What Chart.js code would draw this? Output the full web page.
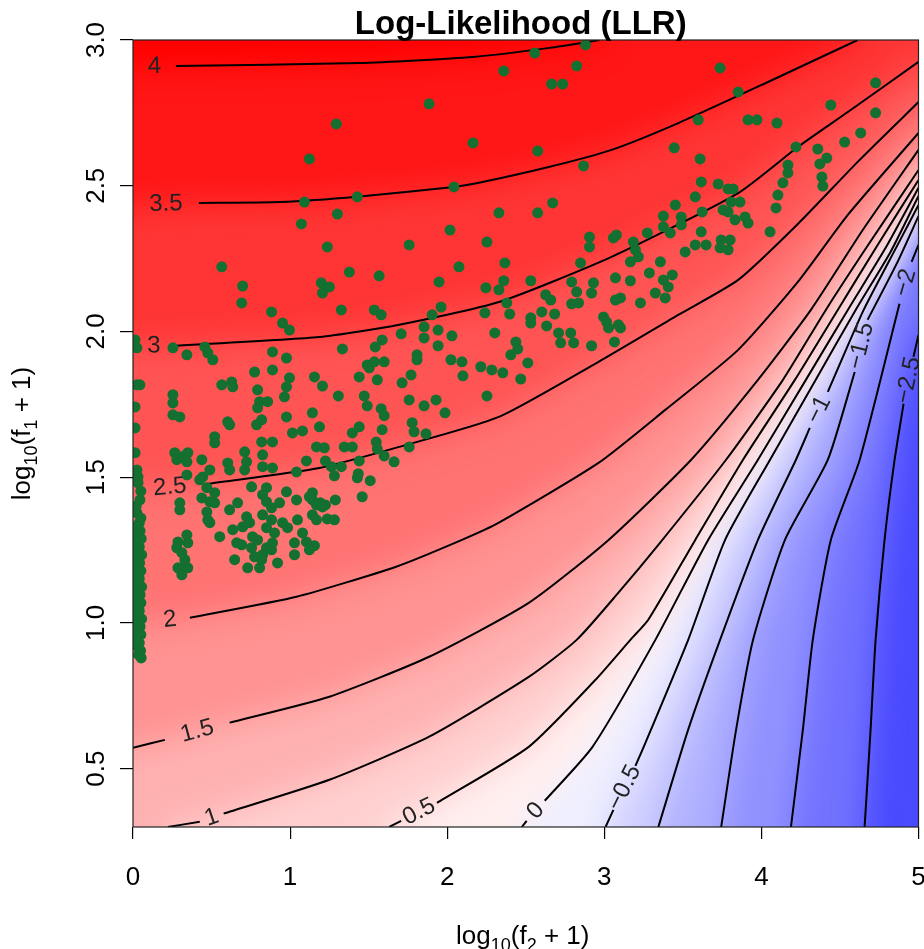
<!DOCTYPE html>
<html>
<head>
<meta charset="utf-8">
<script src="https://cdn.jsdelivr.net/npm/chart.js@4.4.1/dist/chart.umd.min.js"></script>
<style>
  html, body { margin: 0; padding: 0; background: #fff; }
  #wrap { width: 924px; height: 949px; }
</style>
</head>
<body>
<div id="wrap"><canvas id="llr" width="924" height="949"></canvas></div>
<script>
// axis limits and ticks
const X_MIN = 0, X_MAX = 5, Y_MIN = 0.3, Y_MAX = 3.0;
const xTickValues = [0, 1, 2, 3, 4, 5];
const yTickValues = [0.5, 1, 1.5, 2, 2.5, 3];
const yTickLabels = ['0.5', '1.0', '1.5', '2.0', '2.5', '3.0'];

// contour lines, [log10(f2+1), log10(f1+1)]; null = gap for the label
const contourLevels = [4, 3.5, 3, 2.5, 2, 1.5, 1, 0.5, 0, -0.5, -1, -1.5, -2, -2.5];
const c40 = [[0, 2.907], null, [0.273, 2.911], [1.44, 2.921], [2.164, 2.942], [2.652, 2.973], [2.97, 3.0]];
const c35 = [[0, 2.434], null, [0.419, 2.441], [0.933, 2.444], [1.428, 2.462], [2.043, 2.496], [2.202, 2.51],
  [2.646, 2.564], [3.046, 2.623], [3.471, 2.715], [4.042, 2.856], [4.613, 3.0]];
const c30 = [[0, 1.95], null, [0.266, 1.951], [1.187, 1.981], [1.694, 2.023], [2.329, 2.101], [3.046, 2.256],
  [3.852, 2.475], [4.232, 2.633], [4.55, 2.753], [5, 2.925]];
const c25 = [[0, 1.455], null, [0.47, 1.477], [1.187, 1.532], [1.694, 1.604], [2.329, 1.707], [2.963, 1.896],
  [3.471, 2.057], [3.852, 2.177], [4.232, 2.369], [4.613, 2.582], [5, 2.787]];
const c20 = [[0.108, 1.004], null, [0.362, 1.018], [1.041, 1.09], [1.675, 1.193], [2.094, 1.285], [2.329, 1.344],
  [2.963, 1.549], [3.388, 1.731], [3.852, 1.937], [4.232, 2.17], [4.55, 2.4], [5, 2.681]];
const c15 = [[0, 0.572], [0.203, 0.599], null, [0.615, 0.658], [1.25, 0.747], [1.885, 0.884], [2.519, 1.069],
  [3.027, 1.285], [3.553, 1.56], [3.978, 1.834], [4.315, 2.074], [4.645, 2.348], [5, 2.623]];
const c10 = [[0.222, 0.3], [0.425, 0.318], null, [0.577, 0.346], [1.25, 0.462], [1.885, 0.61], [2.519, 0.815],
  [2.824, 0.942], [3.09, 1.104], [3.344, 1.268], [3.775, 1.56], [4.137, 1.834], [4.41, 2.074], [4.676, 2.294], [5, 2.554]];
const c05 = [[1.631, 0.3], [1.707, 0.321], null, [1.935, 0.383], [2.519, 0.575], [2.944, 0.805], [3.166, 0.942],
  [3.28, 1.011], [3.579, 1.285], [3.883, 1.56], [4.213, 1.834], [4.486, 2.074], [4.74, 2.297], [5, 2.52]];
const c00 = [[2.475, 0.3], [2.506, 0.321], null, [2.621, 0.39], [2.925, 0.575], [3.325, 0.942], [3.661, 1.285],
  [3.978, 1.56], [4.283, 1.834], [4.55, 2.074], [4.791, 2.287], [5, 2.493]];
const cm05 = [[3.008, 0.3], [3.058, 0.359], null, [3.198, 0.51], [3.249, 0.572], [3.534, 0.942], [3.769, 1.285],
  [4.055, 1.56], [4.346, 1.834], [4.6, 2.074], [4.822, 2.273], [5, 2.465]];
const cm10 = [[3.344, 0.3], [3.534, 0.634], [3.737, 0.942], [3.978, 1.285], [4.22, 1.56], [4.308, 1.669], null,
  [4.423, 1.793], [4.651, 2.074], [4.867, 2.297], [5, 2.434]];
const cm15 = [[3.744, 0.3], [3.839, 0.634], [3.947, 0.942], [4.15, 1.285], [4.423, 1.56], [4.594, 1.861], null,
  [4.676, 2.04], [4.867, 2.239], [5, 2.396]];
const cm20 = [[4.188, 0.3], [4.264, 0.634], [4.327, 0.942], [4.442, 1.285], [4.626, 1.56], [4.879, 2.095], null,
  [4.956, 2.239], [5, 2.297]];
const cm25 = [[4.657, 0.3], [4.695, 0.634], [4.727, 0.942], [4.784, 1.285], [4.848, 1.56], [4.905, 1.752], null,
  [4.968, 1.913], [5, 1.988]];
const contourPaths = [c40, c35, c30, c25, c20, c15, c10, c05, c00, cm05, cm10, cm15, cm20, cm25];

// green points, [log10(f2+1), log10(f1+1)]
const genes = [
  [0.013,1.971],[0.025,1.944],[0.025,1.817],[0.044,1.817],[0.013,1.741],[0.013,1.669],[0.013,1.584],[0.025,1.525],
  [0.032,1.501],[0.032,1.481],[0.05,1.452],[0.044,1.422],[0.02,1.4],[0.025,1.378],[0.05,1.36],[0.04,1.343],
  [0.02,1.33],[0.045,1.316],[0.03,1.302],[0.052,1.289],[0.02,1.275],[0.04,1.261],[0.028,1.248],[0.055,1.234],
  [0.018,1.22],[0.042,1.206],[0.03,1.193],[0.05,1.179],[0.022,1.165],[0.04,1.152],[0.03,1.138],[0.055,1.124],
  [0.018,1.11],[0.045,1.097],[0.028,1.083],[0.05,1.069],[0.02,1.056],[0.04,1.042],[0.03,1.028],[0.055,1.014],
  [0.022,1.001],[0.045,0.987],[0.03,0.973],[0.05,0.96],[0.02,0.946],[0.04,0.932],[0.03,0.919],[0.048,0.905],
  [0.035,0.891],[0.052,0.88],
  [0.254,1.944],[0.343,1.92],[0.457,1.947],[0.476,1.927],[0.508,1.903],[0.565,1.817],[0.628,1.827],[0.635,1.81],
  [0.692,2.098],[0.882,2.067],[0.952,2.029],[0.996,2.005],[0.888,1.93],[0.977,1.909],[0.774,1.861],[0.888,1.868],
  [0.996,1.841],[0.977,1.81],[0.793,1.8],[0.964,1.776],[0.806,1.759],[0.857,1.759],[0.793,1.738],[0.977,1.707],
  [0.819,1.697],[0.787,1.68],[0.603,1.69],[0.615,1.68],[0.52,1.639],[0.52,1.618],[0.819,1.621],[0.888,1.621],
  [0.711,1.587],[0.825,1.577],[0.825,1.536],[0.888,1.532],[0.723,1.553],[0.711,1.525],[0.603,1.549],[0.615,1.525],
  [0.254,1.783],[0.254,1.755],[0.254,1.714],[0.298,1.707],[0.266,1.584],[0.311,1.57],[0.349,1.584],[0.279,1.56],
  [0.343,1.553],[0.343,1.508],[0.438,1.56],[0.444,1.501],[0.489,1.525],[1.041,1.518],[1.015,1.652],[0.565,2.222],
  [0.698,2.156],
  [1.123,2.592],[1.091,2.444],[1.428,2.462],[2.043,2.496],[1.301,2.403],[1.072,2.369],[2.018,2.348],[1.237,2.29],
  [1.758,2.297],[2.253,2.307],[1.377,2.204],[1.567,2.191],[2.075,2.222],[1.948,2.17],[1.199,2.167],[1.25,2.153],
  [1.206,2.132],[1.326,2.074],[1.536,2.074],[1.961,2.084],[2.246,2.15],
  [2.881,2.983],[2.557,2.955],[2.36,2.894],[2.824,2.911],[2.665,2.849],[2.735,2.849],[1.885,2.781],[1.294,2.712],
  [2.164,2.647],[2.576,2.619],[2.868,2.568],[3.737,2.904],[3.598,2.726],[3.445,2.63],[3.61,2.592],
  [3.617,2.513],[3.579,2.462],[3.452,2.434],[3.623,2.41],[2.671,2.441],[2.576,2.407],[2.329,2.407],[3.376,2.396],
  [3.376,2.359],[3.49,2.393],[3.49,2.366],[3.42,2.338],[3.274,2.338],[3.617,2.342],[2.906,2.324],[2.906,2.29],
  [3.058,2.321],[3.077,2.331],[3.185,2.307],[3.198,2.28],[3.217,2.256],[3.166,2.239],[3.579,2.297],[3.648,2.297],
  [3.515,2.273],[2.849,2.235],[3.357,2.239],[2.367,2.235],[3.287,2.201],[3.433,2.194],[2.329,2.143],[2.36,2.174],
  [2.532,2.174],[2.792,2.17],[2.931,2.167],[3.071,2.184],[3.166,2.174],[3.376,2.177],[3.407,2.153],[2.824,2.136],
  [2.919,2.132],[3.325,2.132],[3.388,2.115],[2.379,2.098],[2.627,2.126],[2.659,2.108],[2.792,2.095],[2.836,2.098],
  [3.071,2.108],[3.103,2.115],[3.23,2.098],[2.24,2.064],[2.398,2.06],[2.602,2.067],[2.684,2.06],[2.532,2.047],
  [2.532,2.029],[2.633,2.019],[2.995,2.05],[3.014,2.033],[3.027,2.012],[3.09,2.023],[3.103,2.012],[2.303,1.995],
  [2.709,1.995],[2.786,1.995],[2.722,1.961],[2.805,1.961],[2.919,1.951],[3.065,1.964],[2.437,1.964],[2.449,1.94],
  [2.405,1.92],[2.513,1.892],[2.284,1.868],[2.354,1.858],[2.468,1.837],[2.214,1.879],[2.253,1.779],
  [3.852,2.822],[3.915,2.726],[3.972,2.726],[4.099,2.715],[4.727,2.853],[4.442,2.777],[4.727,2.75],[4.632,2.681],
  [4.53,2.65],[4.22,2.633],[4.359,2.626],[4.416,2.595],[4.372,2.575],[4.169,2.571],[4.169,2.544],[4.137,2.51],
  [4.385,2.53],[4.391,2.499],[4.105,2.468],[4.093,2.424],[3.725,2.506],[3.788,2.489],[3.82,2.489],[3.807,2.444],
  [3.864,2.444],[3.756,2.417],[3.788,2.41],[3.832,2.383],[3.896,2.393],[3.915,2.372],[4.055,2.342],[3.744,2.314],
  [3.801,2.314],[3.737,2.287],[3.788,2.28],
  [1.58,2.057],[1.904,2.057],[1.853,2.016],[1.853,1.978],[1.942,2.005],[2.03,1.985],[1.707,1.992],[1.586,1.971],
  [1.542,1.947],[1.333,1.94],[1.942,1.951],[1.808,1.92],[1.808,1.903],[2.024,1.903],[2.094,1.896],[1.491,1.885],
  [1.536,1.896],[1.599,1.896],[1.504,1.875],[2.1,1.848],[1.77,1.851],[1.713,1.824],[1.44,1.844],[1.555,1.834],
  [1.155,1.844],[1.206,1.813],[1.307,1.779],[1.472,1.779],[1.758,1.765],[1.491,1.745],[1.58,1.735],[1.853,1.745],
  [1.929,1.765],[1.986,1.721],[1.599,1.711],[1.142,1.721],[1.44,1.673],[1.396,1.652],[1.187,1.673],[1.079,1.659],
  [1.586,1.663],[1.777,1.687],[1.789,1.656],[1.865,1.649],[1.548,1.621],[1.555,1.597],[1.599,1.573],[1.758,1.604],
  [1.662,1.553],[1.168,1.604],[1.218,1.601],[1.345,1.604],[1.396,1.604],[1.44,1.556],[1.104,1.556],[1.225,1.556],
  [1.263,1.536],[1.326,1.536],[1.282,1.505],[1.434,1.512],[1.428,1.498],[1.51,1.488],[1.459,1.433],[1.142,1.447],
  [1.123,1.433],[1.193,1.412],[1.225,1.405],[1.288,1.422],[1.142,1.371],[1.168,1.354],[1.237,1.357],[1.282,1.354],
  [1.079,1.309],[1.104,1.278],[1.155,1.265],
  [0.298,1.412],[0.298,1.388],[0.286,1.278],[0.279,1.258],[0.343,1.302],[0.349,1.275],[0.311,1.241],[0.33,1.217],
  [0.317,1.189],[0.286,1.189],[0.349,1.189],[0.311,1.165],[0.425,1.491],[0.47,1.464],[0.52,1.447],[0.438,1.429],
  [0.489,1.416],[0.52,1.412],[0.47,1.381],[0.476,1.354],[0.489,1.344],[0.615,1.388],[0.666,1.412],[0.552,1.296],
  [0.635,1.32],[0.66,1.275],[0.647,1.217],[0.692,1.268],[0.698,1.33],[0.723,1.364],[0.755,1.467],[0.742,1.344],
  [0.761,1.296],[0.755,1.258],[0.774,1.227],[0.73,1.189],[0.806,1.189],[0.825,1.44],[0.85,1.416],[0.825,1.371],
  [0.882,1.395],[0.882,1.354],[0.85,1.327],[0.901,1.309],[0.793,1.285],[0.85,1.258],[0.882,1.251],[0.825,1.234],
  [0.819,1.217],[0.888,1.275],[0.92,1.206],[0.933,1.412],[0.952,1.344],[0.977,1.45],[1.041,1.422],[1.047,1.354],
  [0.984,1.327],[1.028,1.275],[1.142,1.422],[1.168,1.405],[1.206,1.398],[1.028,1.234],[1.123,1.251],[0.85,1.464]
];

const FONT = '"Liberation Sans", Arial, Helvetica, sans-serif';
const PAD = 1; // how far the filled regions run past the plot edge
const BLUR = 'blur(16px)';

// red - white - blue scale for the LLR value
function llrColor(v) {
  if (v >= 0) {
    const t = Math.min(v / 4.1, 1);
    const c = Math.round(255 * (1 - t));
    return `rgb(255,${c},${c})`;
  }
  const t = Math.min(-v / 3.2, 1);
  const c = Math.round(255 - t * 200);
  return `rgb(${c},${c},255)`;
}

const toXY = p => p ? {x: p[0], y: p[1]} : {x: null, y: null};

// area where LLR is above a level: the contour closed through the top-left corner
function regionPolygon(path) {
  const pts = path.filter(p => p);
  const first = pts[0], last = pts[pts.length - 1];
  const poly = [];
  if (first[1] <= Y_MIN + 0.01) {
    poly.push([X_MIN - PAD, Y_MIN - PAD], [first[0], Y_MIN - PAD]);
  } else {
    poly.push([X_MIN - PAD, first[1]]);
  }
  poly.push(...pts);
  if (last[1] >= Y_MAX - 0.01) {
    poly.push([last[0], Y_MAX + PAD]);
  } else {
    poly.push([X_MAX + PAD, last[1]], [X_MAX + PAD, Y_MAX + PAD]);
  }
  poly.push([X_MIN - PAD, Y_MAX + PAD]);
  return poly.map(toXY);
}

const regionSets = contourLevels.map((lvl, i) => ({
  type: 'line',
  data: regionPolygon(contourPaths[i]),
  fill: 'shape',
  backgroundColor: llrColor(lvl + 0.25),
  borderWidth: 0,
  pointRadius: 0,
  tension: 0,
  order: 100 + i
}));

const contourSets = contourLevels.map((lvl, i) => ({
  type: 'line',
  data: contourPaths[i].map(toXY),
  fill: false,
  borderColor: '#000',
  borderWidth: 2,
  pointRadius: 0,
  tension: 0.2,
  order: 10
}));

const geneSet = {
  type: 'scatter',
  data: genes.map(toXY),
  pointRadius: 5.5,
  pointBackgroundColor: '#137030',
  pointBorderWidth: 0,
  order: 0
};

const datasets = [...regionSets, ...contourSets, geneSet];
const GENE_INDEX = datasets.length - 1;

function labelText(v) {
  return (v < 0 ? '\u2212' : '') + String(Math.abs(v));
}

function drawContourLabels(chart) {
  const {ctx, scales: {x, y}} = chart;
  ctx.save();
  ctx.font = `24px ${FONT}`;
  ctx.fillStyle = '#222';
  ctx.textAlign = 'center';
  ctx.textBaseline = 'middle';
  contourPaths.forEach((path, i) => {
    const k = path.indexOf(null);
    if (k < 1) return;
    const a = path[k - 1], b = path[k + 1];
    const ax = x.getPixelForValue(a[0]), ay = y.getPixelForValue(a[1]);
    const bx = x.getPixelForValue(b[0]), by = y.getPixelForValue(b[1]);
    let ang = Math.atan2(by - ay, bx - ax);
    if (ang > Math.PI / 2) ang -= Math.PI;
    if (ang < -Math.PI / 2) ang += Math.PI;
    ctx.save();
    ctx.translate((ax + bx) / 2, (ay + by) / 2);
    ctx.rotate(ang);
    ctx.fillText(labelText(contourLevels[i]), 0, 0);
    ctx.restore();
  });
  ctx.restore();
}

// text with subscripts, centred on (0,0) of the current transform
function drawSubText(ctx, parts, size) {
  const subSize = Math.round(size * 0.7);
  let total = 0;
  parts.forEach(([t, sub]) => {
    ctx.font = `${sub ? subSize : size}px ${FONT}`;
    total += ctx.measureText(t).width;
  });
  let cx = -total / 2;
  ctx.textAlign = 'left';
  ctx.textBaseline = 'alphabetic';
  parts.forEach(([t, sub]) => {
    ctx.font = `${sub ? subSize : size}px ${FONT}`;
    ctx.fillText(t, cx, sub ? size * 0.28 : 0);
    cx += ctx.measureText(t).width;
  });
}

const decor = {
  id: 'decor',
  beforeDatasetsDraw(chart) {
    const {ctx, chartArea: a} = chart;
    ctx.save();
    ctx.fillStyle = llrColor(-2.9);
    ctx.fillRect(a.left, a.top, a.right - a.left, a.bottom - a.top);
    ctx.restore();
    ctx.filter = BLUR;
  },
  beforeDatasetDraw(chart, args) {
    chart.ctx.filter = 'none';
    if (args.index === GENE_INDEX) drawContourLabels(chart);
  },
  afterDatasetDraw(chart) {
    chart.ctx.filter = BLUR;
  },
  afterDatasetsDraw(chart) {
    chart.ctx.filter = 'none';
  },
  afterDraw(chart) {
    const {ctx, chartArea: a, scales: {y}} = chart;
    ctx.save();
    ctx.strokeStyle = '#222';
    ctx.lineWidth = 1.2;
    ctx.strokeRect(a.left, a.top, a.right - a.left, a.bottom - a.top);

    // y tick labels, parallel to the axis
    ctx.fillStyle = '#000';
    ctx.font = `26px ${FONT}`;
    ctx.textAlign = 'center';
    ctx.textBaseline = 'middle';
    yTickValues.forEach((v, i) => {
      ctx.save();
      ctx.translate(a.left - 36, y.getPixelForValue(v));
      ctx.rotate(-Math.PI / 2);
      ctx.fillText(yTickLabels[i], 0, 0);
      ctx.restore();
    });

    // title
    ctx.font = `bold 33px ${FONT}`;
    ctx.textBaseline = 'alphabetic';
    ctx.fillText('Log-Likelihood (LLR)', (a.left + a.right) / 2 - 5, 34);

    // axis titles
    ctx.save();
    ctx.translate((a.left + a.right) / 2 - 3, 944);
    drawSubText(ctx, [['log', 0], ['10', 1], ['(f', 0], ['2', 1], [' + 1)', 0]], 26);
    ctx.restore();

    ctx.save();
    ctx.translate(30, (a.top + a.bottom) / 2);
    ctx.rotate(-Math.PI / 2);
    drawSubText(ctx, [['log', 0], ['10', 1], ['(f', 0], ['1', 1], [' + 1)', 0]], 26);
    ctx.restore();
    ctx.restore();
  }
};

Chart.defaults.font.family = FONT;

new Chart(document.getElementById('llr'), {
  type: 'line',
  data: {datasets},
  options: {
    responsive: false,
    animation: false,
    events: [],
    layout: {padding: {top: 40, right: 3, left: 0, bottom: 0}},
    plugins: {
      legend: {display: false},
      title: {display: false},
      tooltip: {enabled: false}
    },
    scales: {
      x: {
        type: 'linear',
        min: X_MIN,
        max: X_MAX,
        afterBuildTicks: s => { s.ticks = xTickValues.map(v => ({value: v})); },
        afterFit: s => { s.height = 122; s.paddingLeft = 0; s.paddingRight = 0; },
        grid: {display: true, drawOnChartArea: false, drawTicks: true, tickLength: 12, color: '#000', lineWidth: 1.2},
        border: {display: false},
        ticks: {color: '#000', font: {size: 26}, padding: 23, autoSkip: false, maxRotation: 0,
          callback: v => String(v)}
      },
      y: {
        type: 'linear',
        min: Y_MIN,
        max: Y_MAX,
        afterBuildTicks: s => { s.ticks = yTickValues.map(v => ({value: v})); },
        afterFit: s => { s.width = 133; s.paddingTop = 0; s.paddingBottom = 0; },
        grid: {display: true, drawOnChartArea: false, drawTicks: true, tickLength: 13, color: '#000', lineWidth: 1.2},
        border: {display: false},
        ticks: {display: false}
      }
    }
  },
  plugins: [decor]
});
</script>
</body>
</html>
